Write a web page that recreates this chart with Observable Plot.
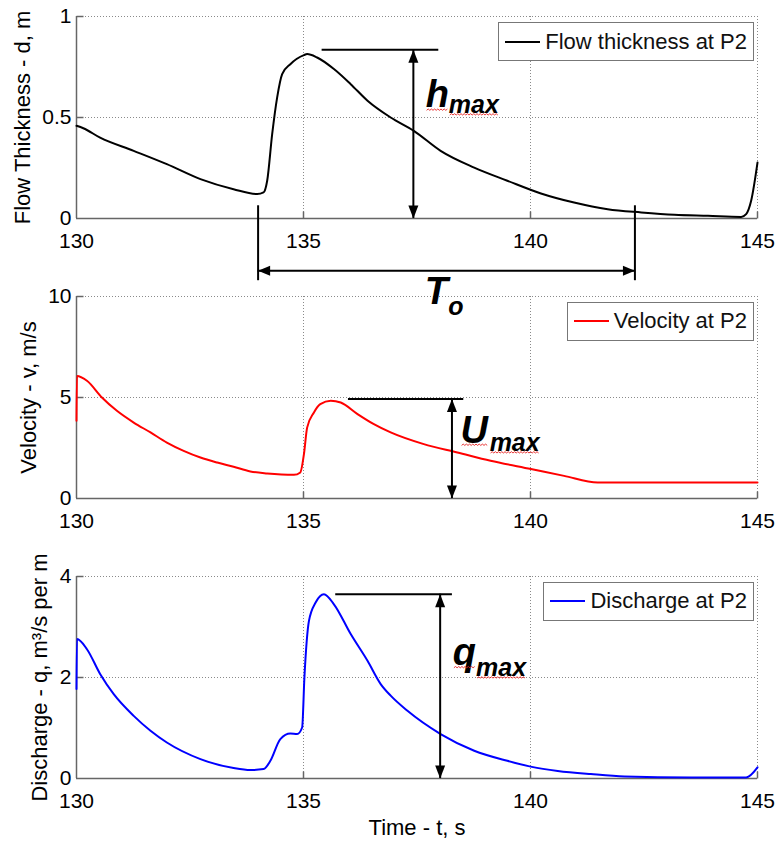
<!DOCTYPE html>
<html><head><meta charset="utf-8">
<script src="https://cdn.jsdelivr.net/npm/d3@7"></script>
<script src="https://cdn.jsdelivr.net/npm/@observablehq/plot@0.6"></script>
<style>
body{margin:0;background:#fff;}
#chart{position:relative;width:781px;height:841px;font-family:"Liberation Sans",Arial,sans-serif;overflow:hidden;}
.legend{position:absolute;right:27px;height:39px;box-sizing:border-box;border:1.5px solid #777;background:#fff;display:flex;align-items:center;padding:0 6px;font-size:22px;color:#111;z-index:10;}
.legend .sw{width:35px;height:2px;margin-right:5px;}
</style></head><body><div id="chart"></div>
<script>
// ---- data ----
const timeTicks = [130, 135, 140, 145];

const thickTime = [130.00,130.15,130.52,131.26,131.99,132.73,133.46,133.98,134.12,134.20,134.31,134.42,134.53,134.71,135.01,135.08,135.30,135.67,136.04,136.41,136.92,137.43,138.02,138.76,139.49,140.23,140.96,141.70,142.44,143.17,143.91,144.64,144.75,144.86,145.00];
const thickDepth = [0.459,0.447,0.400,0.335,0.269,0.195,0.145,0.121,0.129,0.187,0.418,0.600,0.715,0.764,0.809,0.814,0.797,0.740,0.665,0.583,0.500,0.434,0.335,0.252,0.187,0.124,0.079,0.046,0.030,0.018,0.013,0.008,0.022,0.088,0.277];

const velTime = [130.00,130.01,130.23,130.56,130.89,131.26,131.63,131.99,132.36,132.73,133.10,133.46,133.83,134.20,134.79,134.93,135.01,135.08,135.23,135.37,135.60,135.82,136.19,136.55,136.92,137.65,138.39,139.12,140.01,140.74,141.48,145.00];
const velValue = [3.85,6.07,5.83,5.00,4.34,3.76,3.27,2.77,2.36,2.03,1.78,1.57,1.34,1.24,1.17,1.29,2.20,3.51,4.26,4.67,4.84,4.75,4.18,3.68,3.27,2.69,2.28,1.87,1.46,1.12,0.79,0.79];

const disTime = [130.00,130.01,130.23,130.52,130.82,131.26,131.63,131.99,132.73,133.46,133.83,134.12,134.27,134.49,134.71,134.86,134.97,135.02,135.12,135.27,135.45,135.67,136.04,136.41,136.70,136.92,137.29,138.02,138.76,139.49,140.03,140.60,141.33,142.07,143.54,144.75,145.00];
const disValue = [1.77,2.76,2.56,2.07,1.67,1.24,0.945,0.713,0.384,0.206,0.166,0.186,0.35,0.78,0.89,0.88,1.01,2.00,3.12,3.49,3.65,3.45,2.86,2.33,1.87,1.64,1.34,0.88,0.55,0.35,0.23,0.15,0.087,0.04,0.02,0.02,0.22];

const yTicksThick = [0, 0.5, 1];
const yTicksVel = [0, 5, 10];
const yTicksDis = [0, 2, 4];

const yLabels = ["Flow Thickness - d, m", "Velocity - v, m/s", "Discharge - q, m³/s per m"];
const legendLabels = ["Flow thickness at P2", "Velocity at P2", "Discharge at P2"];
const xLabel = "Time - t, s";

// annotations (data units of each panel)
const peakLineX1 = [135.41, 135.99, 135.71];
const peakLineX2 = [137.98, 138.53, 138.28];
const peakLineY  = [0.835, 4.92, 3.65];
const peakArrowX = [137.42, 138.27, 138.01];
const peakMain   = ["h", "U", "q"];
const peakMainX  = [137.69, 138.46, 138.29];
const peakMainY  = [0.55, 2.77, 2.25];
const peakSub    = ["max", "max", "max"];
const peakSubX   = [138.20, 139.10, 138.80];
const peakSubY   = [0.523, 2.36, 2.03];

const durationX = [134.0, 142.3];
const durationLineTop = 0.063, durationLineBottom = -0.308, durationArrowY = -0.259;
const durationMain = "T", durationMainX = 137.67, durationMainY = -0.422;
const durationSub = "o", durationSubX = 138.19, durationSubY = -0.477;

// ---- drawing ----
const FONT = '"Liberation Sans", Arial, sans-serif';
const GRID = "#8a8a8a", AXIS = "#666";
const tickUp = {draw(c){c.moveTo(0,0);c.lineTo(0,-7);}};
const tickRight = {draw(c){c.moveTo(0,0);c.lineTo(7,0);}};
const headUp = {draw(c){c.moveTo(0,0);c.lineTo(5,13);c.lineTo(-5,13);c.closePath();}};
const headDown = {draw(c){c.moveTo(0,0);c.lineTo(5,-13);c.lineTo(-5,-13);c.closePath();}};
const headLeft = {draw(c){c.moveTo(0,0);c.lineTo(12,-5);c.lineTo(12,5);c.closePath();}};
const headRight = {draw(c){c.moveTo(0,0);c.lineTo(-12,-5);c.lineTo(-12,5);c.closePath();}};

const chart = document.getElementById("chart");

// spell-check style red squiggle under the annotation words, placed from the rendered text boxes
function addSquiggles(svg) {
  const sr = svg.getBoundingClientRect();
  const ns = "http://www.w3.org/2000/svg";
  svg.querySelectorAll("text").forEach(t => {
    if (!["h", "U", "q", "max"].includes(t.textContent)) return;
    const r = t.getBoundingClientRect();
    const fs = parseFloat(getComputedStyle(t).fontSize) || 20;
    const x0 = r.left - sr.left + 1, x1 = r.right - sr.left - 1;
    const y = r.top - sr.top + 0.905 * fs + 2.5;
    let d = `M${x0.toFixed(1)},${y.toFixed(1)}`;
    let up = true;
    for (let x = x0 + 1.6; x <= x1; x += 1.6) { d += `L${x.toFixed(1)},${(y + (up ? -1.3 : 0)).toFixed(1)}`; up = !up; }
    const p = document.createElementNS(ns, "path");
    p.setAttribute("d", d);
    p.setAttribute("fill", "none");
    p.setAttribute("stroke", "#e52020");
    p.setAttribute("stroke-width", "0.9");
    svg.appendChild(p);
  });
}

function panel(k, cfg) {
  const rows = cfg.t.map((t, i) => ({t, v: cfg.v[i]}));
  const yt = cfg.yTicks;
  const marks = [
    Plot.ruleX(timeTicks.slice(1), {x: d => d, stroke: GRID, strokeDasharray: "1,2", strokeWidth: 1}),
    Plot.ruleY(yt.slice(1), {y: d => d, stroke: GRID, strokeDasharray: "1,2", strokeWidth: 1}),
    Plot.ruleX([timeTicks[0]], {x: d => d, stroke: AXIS, strokeWidth: 1.5}),
    Plot.ruleY([yt[0]], {y: d => d, stroke: AXIS, strokeWidth: 1.5}),
    Plot.dot(timeTicks.slice(1), {x: d => d, y: () => yt[0], symbol: tickUp, fill: "none", stroke: AXIS, strokeWidth: 1.5}),
    Plot.dot(yt.slice(1), {x: () => timeTicks[0], y: d => d, symbol: tickRight, fill: "none", stroke: AXIS, strokeWidth: 1.5}),
    Plot.line(rows, {x: "t", y: "v", stroke: cfg.color, strokeWidth: 2, curve: "monotone-x"}),
    // peak annotation
    Plot.ruleY([k], {y: i => peakLineY[i], x1: i => peakLineX1[i], x2: i => peakLineX2[i], stroke: "black", strokeWidth: 2}),
    Plot.ruleX([k], {x: i => peakArrowX[i], y1: i => peakLineY[i], y2: () => 0, stroke: "black", strokeWidth: 2}),
    Plot.dot([k], {x: i => peakArrowX[i], y: i => peakLineY[i], symbol: headUp, fill: "black", stroke: "none"}),
    Plot.dot([k], {x: i => peakArrowX[i], y: () => 0, symbol: headDown, fill: "black", stroke: "none"}),
    Plot.text([k], {x: i => peakMainX[i], y: i => peakMainY[i], text: i => peakMain[i], fontSize: 38, fontWeight: "bold", fontStyle: "italic", textAnchor: "start", lineAnchor: "bottom", fill: "black", fontFamily: FONT}),
    Plot.text([k], {x: i => peakSubX[i], y: i => peakSubY[i], text: i => peakSub[i], fontSize: 25, fontWeight: "bold", fontStyle: "italic", textAnchor: "start", lineAnchor: "bottom", fill: "black", fontFamily: FONT}),
    Plot.text([yLabels[k]], {frameAnchor: "left", text: d => d, rotate: -90, dx: cfg.labelDx, textAnchor: "middle", lineAnchor: "middle", fontSize: 22, fill: "black"})
  ];
  if (cfg.extra) marks.push(...cfg.extra);
  const svg = Plot.plot({
    width: 781, height: cfg.height,
    marginLeft: 76, marginRight: 24, marginTop: 16, marginBottom: cfg.height - 218,
    style: {fontFamily: FONT, fontSize: "21px", color: "black", background: "transparent", overflow: "visible"},
    x: {domain: [130, 145], ticks: timeTicks, tickSize: 0, tickPadding: 15, tickFormat: d => String(d), label: null},
    y: {domain: [yt[0], yt[yt.length - 1]], ticks: yt, tickSize: 0, tickPadding: 5, tickFormat: d => String(d), label: null},
    marks
  });
  svg.style.position = "absolute";
  svg.style.left = "0px";
  svg.style.top = cfg.top + "px";
  svg.style.zIndex = String(5 - k);
  chart.appendChild(svg);
  addSquiggles(svg);

  const lg = document.createElement("div");
  lg.className = "legend";
  lg.style.top = cfg.legendTop + "px";
  lg.innerHTML = `<div class="sw" style="background:${cfg.color}"></div><span>${legendLabels[k]}</span>`;
  chart.appendChild(lg);
}

const durationRows = durationX.map(x => ({x}));
panel(0, {
  t: thickTime, v: thickDepth, yTicks: yTicksThick, color: "black", top: 0, height: 280, labelDx: -54, legendTop: 22,
  extra: [
    Plot.ruleX(durationRows, {x: "x", y1: () => durationLineTop, y2: () => durationLineBottom, stroke: "black", strokeWidth: 2}),
    Plot.ruleY([0], {y: () => durationArrowY, x1: () => durationX[0], x2: () => durationX[1], stroke: "black", strokeWidth: 2}),
    Plot.dot([0], {x: () => durationX[0], y: () => durationArrowY, symbol: headLeft, fill: "black", stroke: "none"}),
    Plot.dot([0], {x: () => durationX[1], y: () => durationArrowY, symbol: headRight, fill: "black", stroke: "none"}),
    Plot.text([durationMain], {x: () => durationMainX, y: () => durationMainY, text: d => d, fontSize: 38, fontWeight: "bold", fontStyle: "italic", textAnchor: "start", lineAnchor: "bottom", fill: "black", fontFamily: FONT}),
    Plot.text([durationSub], {x: () => durationSubX, y: () => durationSubY, text: d => d, fontSize: 25, fontWeight: "bold", fontStyle: "italic", textAnchor: "start", lineAnchor: "bottom", fill: "black", fontFamily: FONT})
  ]
});
panel(1, {t: velTime, v: velValue, yTicks: yTicksVel, color: "#ff0000", top: 280, height: 280, labelDx: -48, legendTop: 301.7});
panel(2, {
  t: disTime, v: disValue, yTicks: yTicksDis, color: "#0000ff", top: 560, height: 281, labelDx: -37, legendTop: 581.7,
  extra: [
    Plot.text([xLabel], {frameAnchor: "bottom", text: d => d, dy: 49, lineAnchor: "middle", fontSize: 22, fill: "black"})
  ]
});
</script></body></html>
